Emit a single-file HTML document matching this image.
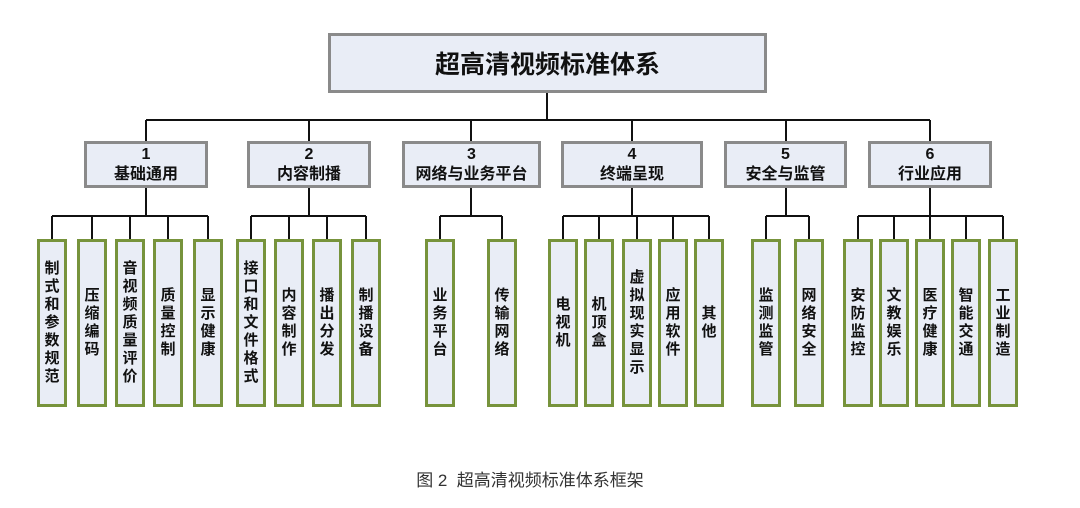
<!DOCTYPE html>
<html><head><meta charset="utf-8"><style>
body{margin:0;width:1080px;height:508px;background:#fff;position:relative;overflow:hidden;font-family:"Liberation Sans","Noto Sans CJK SC",sans-serif;}
.b{position:absolute;box-sizing:border-box;background:#e9edf6;border:3px solid #8a8a8a;display:flex;flex-direction:column;align-items:center;justify-content:center;font-weight:bold;color:#111;}
.m{top:141px;height:47px;font-size:16px;line-height:20px;}
.l{top:239px;height:168px;width:30px;border-color:#77933c;}
.l span{display:block;width:15px;font-size:15px;line-height:18px;word-break:break-all;text-align:center;}
svg{position:absolute;left:0;top:0;}
</style></head><body>
<svg width="1080" height="508" stroke="#111" stroke-width="2" fill="none">
<path d="M547 93V120M146 120H930M146 120V141M309 120V141M471 120V141M632 120V141M786 120V141M930 120V141"/>
<path d="M146 188V216M52 216H208M52 216V239M92 216V239M130 216V239M168 216V239M208 216V239"/>
<path d="M309 188V216M251 216H366M251 216V239M289 216V239M327 216V239M366 216V239"/>
<path d="M471 188V216M440 216H502M440 216V239M502 216V239"/>
<path d="M632 188V216M563 216H709M563 216V239M599 216V239M637 216V239M673 216V239M709 216V239"/>
<path d="M786 188V216M766 216H809M766 216V239M809 216V239"/>
<path d="M930 188V216M858 216H1003M858 216V239M894 216V239M930 216V239M966 216V239M1003 216V239"/>
</svg>
<div class="b" style="left:328px;top:33px;width:439px;height:60px;font-size:25px;">超高清视频标准体系</div>
<div class="b m" style="left:84px;width:124px;"><div>1</div><div>基础通用</div></div>
<div class="b m" style="left:247px;width:124px;"><div>2</div><div>内容制播</div></div>
<div class="b m" style="left:402px;width:139px;"><div>3</div><div>网络与业务平台</div></div>
<div class="b m" style="left:561px;width:142px;"><div>4</div><div>终端呈现</div></div>
<div class="b m" style="left:724px;width:123px;"><div>5</div><div>安全与监管</div></div>
<div class="b m" style="left:868px;width:124px;"><div>6</div><div>行业应用</div></div>

<div class="b l" style="left:37px"><span>制式和参数规范</span></div>
<div class="b l" style="left:77px"><span>压缩编码</span></div>
<div class="b l" style="left:115px"><span>音视频质量评价</span></div>
<div class="b l" style="left:153px"><span>质量控制</span></div>
<div class="b l" style="left:193px"><span>显示健康</span></div>

<div class="b l" style="left:236px"><span>接口和文件格式</span></div>
<div class="b l" style="left:274px"><span>内容制作</span></div>
<div class="b l" style="left:312px"><span>播出分发</span></div>
<div class="b l" style="left:351px"><span>制播设备</span></div>

<div class="b l" style="left:425px"><span>业务平台</span></div>
<div class="b l" style="left:487px"><span>传输网络</span></div>

<div class="b l" style="left:548px"><span>电视机</span></div>
<div class="b l" style="left:584px"><span>机顶盒</span></div>
<div class="b l" style="left:622px"><span>虚拟现实显示</span></div>
<div class="b l" style="left:658px"><span>应用软件</span></div>
<div class="b l" style="left:694px"><span>其他</span></div>

<div class="b l" style="left:751px"><span>监测监管</span></div>
<div class="b l" style="left:794px"><span>网络安全</span></div>

<div class="b l" style="left:843px"><span>安防监控</span></div>
<div class="b l" style="left:879px"><span>文教娱乐</span></div>
<div class="b l" style="left:915px"><span>医疗健康</span></div>
<div class="b l" style="left:951px"><span>智能交通</span></div>
<div class="b l" style="left:988px"><span>工业制造</span></div>

<div style="position:absolute;left:380px;width:300px;top:466px;text-align:center;font-size:17px;color:#333;">图 2&nbsp; 超高清视频标准体系框架</div>
</body></html>
